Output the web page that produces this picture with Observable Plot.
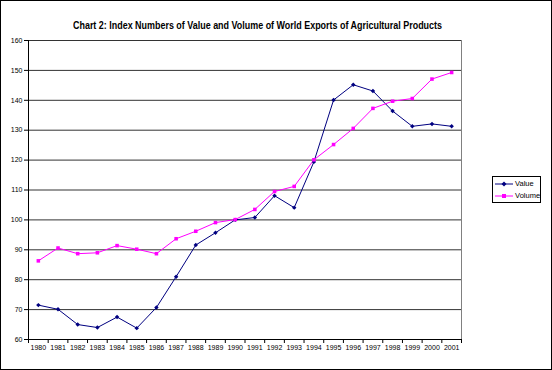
<!DOCTYPE html>
<html><head><meta charset="utf-8">
<script src="https://cdn.jsdelivr.net/npm/d3@7"></script>
<script src="https://cdn.jsdelivr.net/npm/@observablehq/plot@0.6"></script>
<style>
body{margin:0;background:#fff;}
#wrap{position:relative;width:552px;height:370px;overflow:hidden;font-family:"Liberation Sans",Arial,sans-serif;background:#fff;}
#title{position:absolute;left:73px;top:20px;font-weight:bold;font-size:10px;line-height:12px;white-space:nowrap;color:#000;transform-origin:0 50%;}
#chart{position:absolute;left:0;top:0;}
#legend{position:absolute;left:492px;top:176px;width:49px;height:27px;box-sizing:border-box;border:1px solid #000;font-size:7.5px;color:#000;}
.li{position:absolute;left:2px;height:10px;line-height:10px;white-space:nowrap;}
.li svg{vertical-align:middle;}
#border{position:absolute;left:0;top:0;width:552px;height:370px;box-sizing:border-box;border:1px solid #000;pointer-events:none;}
</style></head>
<body>
<div id="wrap">
  <div id="chart"></div>
  <div id="title">Chart 2: Index Numbers of Value and Volume of World Exports of Agricultural Products</div>
  <div id="legend"></div>
  <div id="border"></div>
</div>
<script>
const years = [1980,1981,1982,1983,1984,1985,1986,1987,1988,1989,1990,1991,1992,1993,1994,1995,1996,1997,1998,1999,2000,2001];
const valueSeries = [71.5,70.1,65.0,64.0,67.5,63.8,70.7,81.0,91.6,95.7,100.0,100.8,108.1,104.1,119.4,140.1,145.2,143.1,136.4,131.3,132.1,131.3];
const volumeSeries = [86.3,90.6,88.7,89.0,91.4,90.2,88.7,93.7,96.2,99.1,100.1,103.5,109.5,111.2,120.1,125.2,130.6,137.3,139.7,140.6,147.1,149.3];
const yTicks = [60,70,80,90,100,110,120,130,140,150,160];
const seriesNames = ["Value","Volume"];
const seriesColors = ["#000080","#FF00FF"];
const seriesSymbols = ["diamond2","square"];

const data = [];
years.forEach((yr,i)=>{
  data.push({year:yr, v:valueSeries[i], s:seriesNames[0]});
  data.push({year:yr, v:volumeSeries[i], s:seriesNames[1]});
});
const bounds = years.map(y=>y-0.5).concat([years[years.length-1]+0.5]);

const plot = Plot.plot({
  width:552, height:370,
  marginLeft:28, marginRight:91, marginTop:40, marginBottom:31,
  style:{background:"transparent", fontFamily:"'Liberation Sans', Arial, sans-serif", fontSize:"7px", color:"#000", maxWidth:"none"},
  x:{type:"linear", domain:[bounds[0], bounds[bounds.length-1]]},
  y:{domain:[60,160]},
  color:{domain:seriesNames, range:seriesColors},
  symbol:{domain:seriesNames, range:seriesSymbols},
  marks:[
    Plot.ruleY(yTicks.filter(v=>v>60), {stroke:"#333", strokeWidth:1}),
    Plot.ruleX([bounds[bounds.length-1]], {stroke:"#808080"}),
    Plot.ruleX([bounds[0]], {stroke:"#000"}),
    Plot.ruleY([60], {stroke:"#000"}),
    Plot.axisY({ticks:yTicks, tickSize:4, tickPadding:2, tickFormat:d=>String(d), label:null, fontSize:7}),
    Plot.axisX({ticks:years, tickSize:0, tickPadding:6, tickFormat:d=>String(d), label:null, fontSize:7}),
    Plot.axisX({ticks:bounds, tickSize:4, tickFormat:()=> "", label:null}),
    Plot.line(data, {x:"year", y:"v", z:"s", stroke:"s", strokeWidth:1}),
    Plot.dot(data, {x:"year", y:"v", symbol:"s", fill:"s", stroke:"none", r:2})
  ]
});
document.getElementById("chart").appendChild(plot);

// fit the title width to the reference's condensed look
const tt = document.getElementById("title");
const w = tt.getBoundingClientRect().width;
tt.style.transform = `scaleX(${369 / w})`;

// legend
const lg = document.getElementById("legend");
seriesNames.forEach((n,i)=>{
  const d = document.createElement("div");
  d.className = "li";
  d.style.top = (i===0 ? 2 : 14) + "px";
  const sym = i===0
    ? `<path d="M9 1.5 L11.5 4 L9 6.5 L6.5 4 Z" fill="${seriesColors[i]}"/>`
    : `<rect x="7" y="2" width="4" height="4" fill="${seriesColors[i]}"/>`;
  d.innerHTML = `<svg width="18" height="8"><line x1="0" y1="4" x2="18" y2="4" stroke="${seriesColors[i]}" stroke-width="1"/>${sym}</svg> ${n}`;
  lg.appendChild(d);
});
</script>
</body></html>
